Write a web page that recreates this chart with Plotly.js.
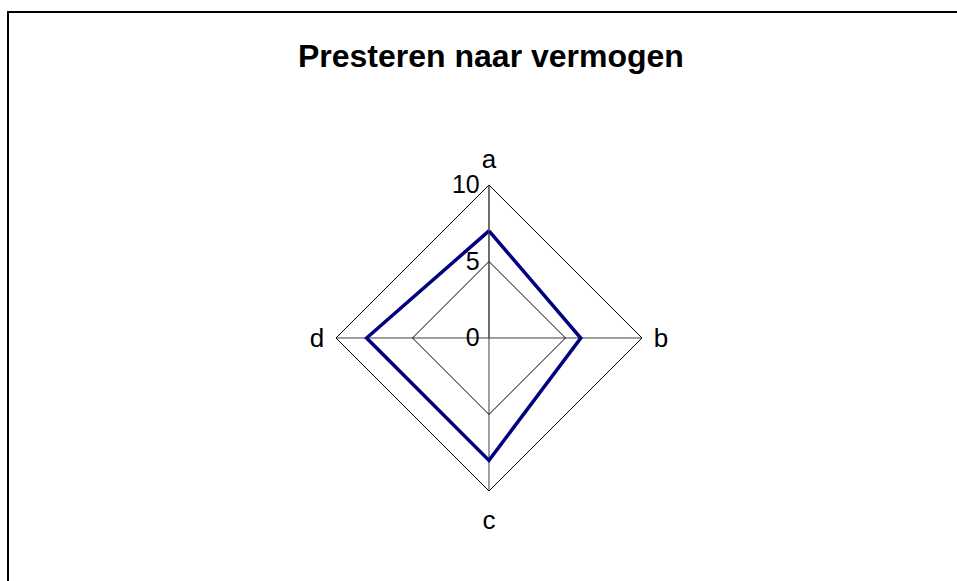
<!DOCTYPE html>
<html>
<head>
<meta charset="utf-8">
<script src="https://cdn.plot.ly/plotly-3.0.1.min.js"></script>
<style>
  html, body { margin: 0; padding: 0; background: #fff; }
  #chart { width: 957px; height: 581px; }
</style>
</head>
<body>
<div id="chart"></div>
<script>
// Radar chart data
const categories = ['a', 'b', 'c', 'd'];
const scores = [7, 6, 8, 8];
const radialTicks = [0, 5, 10];

// close the polygon
const theta = categories.concat(categories[0]);
const r = scores.concat(scores[0]);

const trace = {
    type: 'scatterpolar',
    r: r,
    theta: theta,
    mode: 'lines',
    line: { color: '#000080', width: 3.5 },
    hoverinfo: 'skip'
};

const layout = {
    width: 957,
    height: 581,
    margin: { l: 0, r: 0, t: 0, b: 0 },
    paper_bgcolor: '#ffffff',
    showlegend: false,
    font: { family: 'Liberation Sans, Arial, sans-serif', color: '#000000' },
    title: {
        text: '<b>Presteren naar vermogen</b>',
        font: { size: 32, family: 'Liberation Sans, Arial, sans-serif', color: '#000000' },
        x: 0.513, xanchor: 'center',
        y: 0.904, yanchor: 'middle'
    },
    polar: {
        domain: { x: [0.3511, 0.6708], y: [0.1549, 0.6816] },
        gridshape: 'linear',
        bgcolor: 'rgba(0,0,0,0)',
        angularaxis: {
            type: 'category',
            categoryarray: categories,
            direction: 'clockwise',
            rotation: 90,
            showline: true,
            linecolor: '#000000',
            linewidth: 1,
            showgrid: true,
            gridcolor: '#404040',
            gridwidth: 1,
            // invisible ticks just to push the labels a bit outward
            ticks: 'outside',
            ticklen: 6,
            tickcolor: 'rgba(0,0,0,0)',
            tickfont: { size: 26, color: '#000000' }
        },
        radialaxis: {
            range: [0, 10],
            tickvals: radialTicks,
            ticktext: radialTicks.map(String),
            angle: 90,
            tickangle: 90,
            side: 'counterclockwise',
            showline: true,
            linecolor: '#404040',
            linewidth: 1,
            showgrid: true,
            gridcolor: '#000000',
            gridwidth: 1,
            ticks: '',
            tickfont: { size: 25, color: '#000000' }
        }
    },
    shapes: [{
        type: 'rect',
        xref: 'paper', yref: 'paper',
        x0: 8 / 957, x1: 1.02,
        y0: -0.02, y1: 1 - 12 / 581,
        line: { color: '#000000', width: 2 },
        fillcolor: 'rgba(0,0,0,0)'
    }]
};

Plotly.newPlot('chart', [trace], layout, { displayModeBar: false, responsive: false });
</script>
</body>
</html>
